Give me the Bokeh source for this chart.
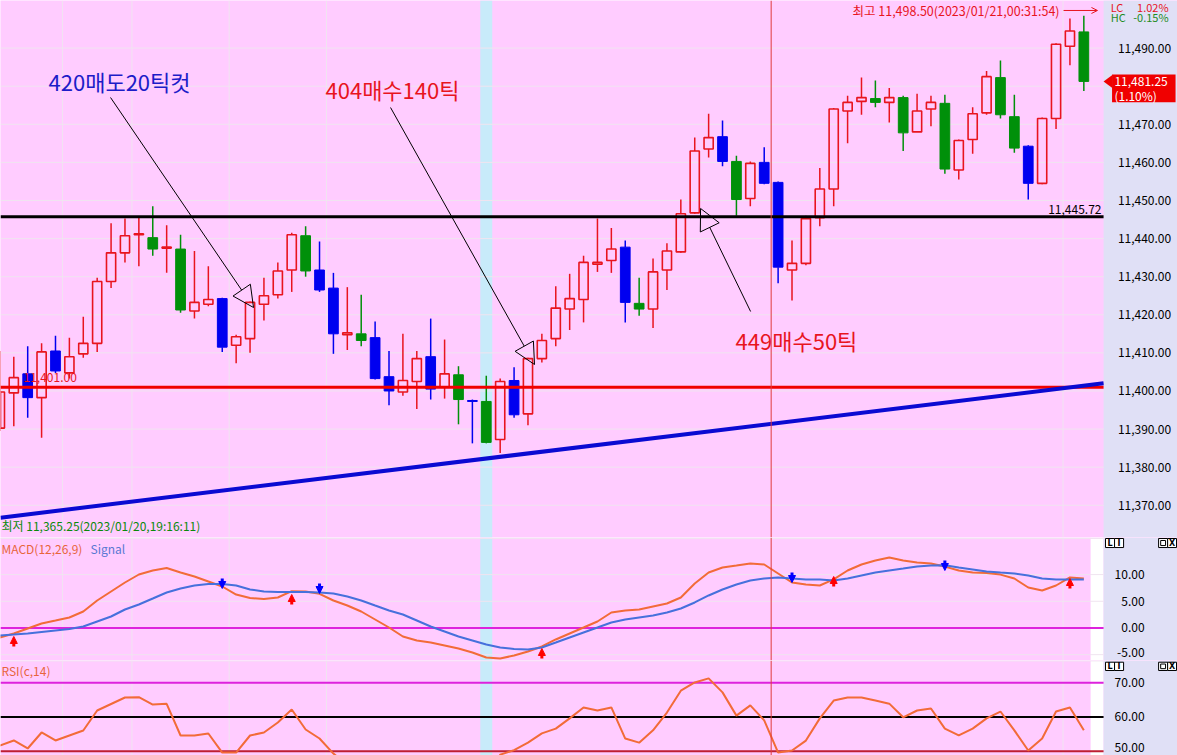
import numpy as np
from bokeh.plotting import figure
from bokeh.layouts import column
from bokeh.models import (ColumnDataSource, Range1d, Span, BoxAnnotation,
                          Arrow, NormalHead, OpenHead)
from bokeh.core.properties import value
from bokeh.embed import file_html
from bokeh.resources import INLINE

# ---------------- data ----------------
opens = [11390.25, 11399.5, 11404.5, 11398.25, 11410.5, 11404.75, 11409.75, 11412.5, 11428.75, 11436.25,
         11441.0, 11440.25, 11437.5, 11437.25, 11421.0, 11422.75, 11424.25, 11412.0, 11413.75, 11422.75,
         11425.25, 11431.75, 11440.75, 11431.75, 11427.0, 11414.75, 11415.0, 11414.0, 11403.75, 11399.75,
         11402.5, 11409.0, 11401.0, 11404.25, 11397.5, 11397.25, 11387.25, 11402.75, 11394.0, 11408.5,
         11413.75, 11421.5, 11424.0, 11433.25, 11434.25, 11437.75, 11423.0, 11421.5, 11431.75, 11436.5,
         11446.75, 11463.5, 11466.75, 11460.25, 11450.5, 11460.0, 11454.75, 11431.75, 11433.5, 11445.5,
         11453.0, 11473.5, 11476.0, 11476.75, 11475.75, 11477.0, 11468.0, 11474.0, 11475.5, 11458.0,
         11466.0, 11473.0, 11482.25, 11472.0, 11464.25, 11454.5, 11471.5, 11490.5, 11494.25]
highs = [11410.5, 11409.0, 11411.75, 11412.5, 11414.5, 11414.0, 11419.5, 11429.75, 11444.0, 11445.25,
         11445.5, 11448.5, 11443.5, 11441.0, 11436.75, 11432.75, 11424.5, 11414.75, 11423.5, 11429.75,
         11433.75, 11441.5, 11443.25, 11439.25, 11431.0, 11427.25, 11425.25, 11418.25, 11410.5, 11415.0,
         11410.5, 11419.0, 11413.5, 11406.5, 11397.75, 11404.0, 11403.25, 11406.25, 11408.75, 11415.0,
         11427.5, 11430.75, 11435.5, 11445.25, 11442.75, 11439.5, 11429.75, 11434.75, 11438.75, 11450.25,
         11466.5, 11472.75, 11471.0, 11461.75, 11460.25, 11464.0, 11455.0, 11439.5, 11446.0, 11458.5,
         11474.25, 11477.5, 11482.25, 11481.5, 11479.5, 11477.5, 11478.0, 11477.5, 11477.75, 11466.0,
         11474.5, 11484.0, 11486.75, 11477.75, 11464.5, 11471.75, 11491.25, 11497.75, 11498.5]
lows = [11389.5, 11390.75, 11393.0, 11387.75, 11404.75, 11403.25, 11408.75, 11410.25, 11427.0, 11433.75,
        11432.75, 11435.5, 11431.0, 11420.5, 11419.0, 11422.25, 11410.25, 11407.25, 11410.0, 11418.5,
        11424.25, 11426.0, 11430.0, 11426.0, 11409.75, 11410.75, 11411.75, 11403.0, 11396.25, 11398.75,
        11395.25, 11397.75, 11398.0, 11391.25, 11386.25, 11386.25, 11383.75, 11393.0, 11391.0, 11407.5,
        11411.75, 11416.0, 11418.0, 11431.25, 11431.0, 11418.0, 11419.75, 11416.5, 11426.5, 11436.25,
        11446.5, 11461.25, 11459.0, 11446.0, 11448.5, 11454.25, 11428.25, 11423.75, 11433.0, 11443.25,
        11448.5, 11465.0, 11472.5, 11474.5, 11470.5, 11463.0, 11468.0, 11469.5, 11457.0, 11455.5,
        11462.25, 11472.5, 11471.5, 11462.5, 11450.25, 11454.25, 11468.75, 11485.5, 11478.75]
closes = [11399.75, 11403.5, 11398.25, 11410.25, 11405.25, 11409.0, 11412.5, 11428.75, 11436.25, 11440.75,
          11441.25, 11437.25, 11437.75, 11421.25, 11423.25, 11424.0, 11411.5, 11414.25, 11423.25, 11425.0,
          11431.5, 11441.0, 11431.5, 11426.5, 11415.0, 11415.25, 11413.25, 11403.25, 11400.0, 11402.75,
          11408.5, 11400.5, 11404.5, 11397.75, 11397.25, 11386.5, 11402.5, 11393.75, 11408.5, 11413.25,
          11421.75, 11424.25, 11433.75, 11433.75, 11437.25, 11423.25, 11421.5, 11431.25, 11436.75, 11446.5,
          11463.0, 11466.5, 11460.25, 11450.25, 11459.75, 11454.5, 11432.5, 11433.5, 11445.25, 11453.0,
          11474.0, 11475.75, 11477.0, 11475.75, 11477.0, 11467.75, 11473.5, 11475.75, 11458.25, 11465.75,
          11472.75, 11482.5, 11472.5, 11463.75, 11454.5, 11471.5, 11491.0, 11494.5, 11481.25]
# R = rising (hollow red), B = falling (blue), G = falling (green)
candle_kind = list("RRBRBRRRRR" "RGRGRRBRRR" "RRGBBRGBBR" "RBRGBGRBRR"
                   "RRRRRBGRRR" "RRBGRBBRRR" "RRRGRGRRGR" "RRGGBRRRG")

macd = [-1.78, -1.03, -0.09, 0.84, 1.40, 1.97, 3.09, 5.15, 6.84, 8.52,
        10.02, 10.77, 11.24, 10.39, 9.64, 8.71, 7.77, 6.27, 5.62, 5.43,
        5.71, 6.90, 6.84, 6.40, 5.15, 4.21, 3.09, 1.59, 0.09, -1.59,
        -2.34, -2.72, -3.28, -3.84, -4.59, -5.52, -5.71, -5.15, -4.40, -3.46,
        -2.15, -1.03, 0.09, 1.22, 2.90, 3.28, 3.46, 4.03, 4.59, 5.71,
        8.33, 10.39, 11.33, 11.70, 12.08, 11.89, 10.21, 8.52, 8.15, 7.96,
        9.10, 10.77, 11.89, 12.64, 13.20, 12.64, 12.27, 12.08, 11.50, 10.77,
        10.39, 10.30, 10.00, 9.27, 7.58, 7.02, 7.96, 9.46, 9.27]
signal = [-1.40, -1.22, -1.03, -0.75, -0.47, -0.19, 0.28, 1.22, 2.15, 3.46,
          4.40, 5.52, 6.65, 7.40, 7.96, 8.24, 8.24, 7.96, 7.21, 6.84,
          6.74, 6.74, 6.74, 6.65, 6.46, 5.90, 5.15, 4.21, 3.28, 2.53,
          1.40, 0.28, -0.66, -1.59, -2.34, -3.09, -3.65, -3.93, -4.03, -3.65,
          -2.72, -1.78, -0.84, 0.09, 1.03, 1.59, 1.97, 2.34, 2.90, 3.65,
          4.78, 6.09, 7.21, 8.15, 8.90, 9.27, 9.46, 9.27, 9.08, 9.08,
          8.90, 9.27, 9.83, 10.39, 10.77, 11.14, 11.52, 11.70, 11.75, 11.33,
          10.96, 10.58, 10.39, 10.21, 9.83, 9.27, 9.08, 9.08, 9.08]
rsi = [51.67, 53.13, 50.79, 55.47, 53.13, 54.59, 56.05, 61.9, 63.8, 65.7,
       65.79, 63.65, 63.86, 54.59, 54.59, 55.18, 49.6, 49.6, 54.59, 55.47,
       58.4, 62.2, 56.35, 53.72, 49.3, 46.0, 44.0, 41.0, 38.0, 40.0,
       42.0, 40.0, 41.0, 39.0, 36.0, 35.0, 49.0, 50.3, 52.5, 55.2,
       56.6, 59.6, 62.8, 61.9, 62.8, 53.7, 52.5, 56.1, 61.3, 67.7,
       70.1, 71.3, 67.2, 60.4, 63.4, 59.0, 49.6, 50.2, 53.1, 59.6,
       64.8, 65.7, 65.7, 64.8, 63.9, 59.9, 61.9, 62.5, 56.6, 54.6,
       56.6, 59.6, 61.6, 56.1, 50.2, 53.7, 61.6, 62.8, 56.1]

buy_idx = [1, 21, 39, 60, 77]
buy_tip = [-1.59, 6.27, -3.84, 9.64, 9.27]
sell_idx = [16, 23, 57, 68]
sell_tip = [7.40, 6.46, 8.52, 10.77]

price_ticks = [11370, 11380, 11390, 11400, 11410, 11420, 11430, 11440, 11450, 11460, 11470, 11480, 11490]
macd_ticks = [10, 5, 0, -5]
rsi_ticks = [70, 60, 50]

support_level = 11401.00
resist_level = 11445.72
trend_x = [0.04, 79.42]
trend_y = [11366.75, 11402.0]
last_price = 11481.25
last_change = "(1.10%)"
high_label = "최고 11,498.50(2023/01/21,00:31:54)"
low_label = "최저 11,365.25(2023/01/20,19:16:11)"
notes = ["420매도20틱컷", "404매수140틱", "449매수50틱"]
highlight_idx = 35
cursor_x = 55.5
vgrid_x = [4.5, 9.5, 16.5, 23.5, 76.5]

# ---------------- style ----------------
PINK = "#FFCCFF"
LAV = "#E0E0F6"
GRID = "#F0E4F0"
CYAN = "#C8EBFA"
RED = "#E8141E"
BLUE = "#0000F0"
GREEN = "#00900A"
ORANGE = "#F26B38"
SIGBLUE = "#4670DC"
MAGENTA = "#DD22DD"
FONT = value("Noto Sans CJK KR")

XR = Range1d(0.043, 84.74)
AX = 79.42          # left edge of the price-scale strip
W = 1177


def make_fig(h, yr):
    p = figure(width=W, height=h, x_range=XR, y_range=yr, output_backend="svg",
               toolbar_location=None, x_axis_location=None, y_axis_location=None,
               min_border=0, background_fill_color=PINK, border_fill_color=PINK,
               outline_line_color=None)
    p.grid.visible = False
    return p


def txt(p, x, y, s, color, size=12, align="left", baseline="middle"):
    p.text(x=[x], y=[y], text=[s], text_color=color, text_font=FONT,
           text_font_size=f"{size}px", text_align=align, text_baseline=baseline)


def common(p, ylo, yhi, strip=False):
    p.add_layout(BoxAnnotation(left=highlight_idx - 0.43, right=highlight_idx + 0.43,
                               fill_color=CYAN, fill_alpha=1, line_color=None, level="underlay"))
    if strip:
        p.add_layout(BoxAnnotation(left=78.49, right=AX, fill_color="white", fill_alpha=1,
                                   line_color=None, level="underlay"))
    p.add_layout(BoxAnnotation(left=AX, fill_color=LAV, fill_alpha=1, line_color=None,
                               level="underlay"))
    p.segment(x0=vgrid_x, x1=vgrid_x, y0=[ylo] * len(vgrid_x), y1=[yhi] * len(vgrid_x),
              line_color=GRID, line_width=1)


def icons(p, ytop, ybot):
    ym = (ytop + ybot) / 2
    p.quad(left=[79.56, 80.21, 83.38, 84.03], right=[80.21, 80.86, 84.03, 84.67],
           top=[ytop] * 4, bottom=[ybot] * 4, fill_color="white", line_color="black", line_width=1)
    p.text(x=[79.885, 80.535, 84.35], y=[ym] * 3, text=["L", "I", "X"], text_color="black",
           text_font=value("DejaVu Sans"), text_font_size="8px", text_font_style="bold",
           text_align="center", text_baseline="middle")
    dy = (ytop - ybot) * 0.28
    p.quad(left=[83.53], right=[83.88], top=[ym + dy], bottom=[ym - dy],
           fill_color=None, line_color="black", line_width=1)


# ---------------- main price panel ----------------
Y1 = (11361.54, 11502.49)
p1 = make_fig(537, Range1d(*Y1))
common(p1, *Y1)
p1.segment(x0=[XR.start] * len(price_ticks), x1=[AX] * len(price_ticks),
           y0=price_ticks, y1=price_ticks, line_color=GRID, line_width=1)

x = np.arange(len(opens))
o = np.array(opens); h = np.array(highs); l = np.array(lows); c = np.array(closes)
top = np.maximum(o, c); bot = np.minimum(o, c)
kind = np.array(candle_kind)
col = np.where(kind == "R", RED, np.where(kind == "B", BLUE, GREEN))

p1.segment(x0=x, x1=x, y0=h, y1=top, line_color=col, line_width=1.5)
p1.segment(x0=x, x1=x, y0=bot, y1=l, line_color=col, line_width=1.5)
up = kind == "R"
p1.vbar(x=x[up], top=top[up], bottom=bot[up], width=0.66, fill_color=None,
        line_color=RED, line_width=1.6)
dn = ~up
p1.vbar(x=x[dn], top=top[dn], bottom=bot[dn], width=0.70, fill_color=col[dn],
        line_color=col[dn], line_width=1)

p1.segment(x0=[XR.start], x1=[AX], y0=[resist_level], y1=[resist_level], line_color="black", line_width=3)
p1.segment(x0=[XR.start], x1=[AX], y0=[support_level], y1=[support_level], line_color="#F00000", line_width=3)
p1.line(trend_x, trend_y, line_color="#0A0AD2", line_width=4)

# price scale labels
p1.text(x=[80.45] * len(price_ticks), y=price_ticks, text=[f"{t:,.2f}" for t in price_ticks],
        text_color="black", text_font=FONT, text_font_size="12px", text_baseline="middle")

# last price tag
p1.quad(left=[80.03], right=[84.6], top=[last_price + 1.8], bottom=[last_price - 5.45],
        fill_color="#F00000", line_color=None)
p1.patch(x=[AX, 80.05, 80.05], y=[last_price, last_price + 1.7, last_price - 1.7],
         fill_color="#F00000", line_color=None)
txt(p1, 80.20, last_price, f"{last_price:,.2f}", "white")
txt(p1, 80.20, last_price - 3.7, last_change, "white")

txt(p1, 79.93, 11500.78, "LC", RED, size=11)
txt(p1, 84.10, 11500.78, "1.02%", RED, size=11, align="right")
txt(p1, 79.93, 11498.03, "HC", "#1E8C1E", size=11)
txt(p1, 84.10, 11498.03, "-0.15%", "#1E8C1E", size=11, align="right")

txt(p1, 79.27, 11447.63, f"{resist_level:,.2f}", "black", align="right")
txt(p1, 1.70, 11403.54, f"{support_level:,.2f}", RED)
txt(p1, 61.35, 11499.87, high_label, RED, size=12.5)
p1.add_layout(Arrow(end=OpenHead(size=6, line_color=RED, line_width=1),
                    x_start=76.54, y_start=11499.87, x_end=78.98, y_end=11499.87,
                    line_color=RED, line_width=1))
txt(p1, 0.115, 11364.69, low_label, "#0A8A0A")

txt(p1, 3.50, 11481.49, notes[0], "#1C1CC8", size=22)
txt(p1, 23.43, 11479.39, notes[1], RED, size=22)
txt(p1, 52.94, 11413.25, notes[2], RED, size=22)
for (xs, ys, xe, ye) in [(7.96, 11477.03, 18.25, 11421.91),
                         (28.11, 11474.4, 38.47, 11406.95),
                         (54.02, 11420.86, 50.42, 11447.9)]:
    p1.add_layout(Arrow(end=NormalHead(size=21, fill_color=None, line_color="black", line_width=1),
                        x_start=xs, y_start=ys, x_end=xe, y_end=ye,
                        line_color="black", line_width=1))

# ---------------- MACD panel ----------------
Y2 = (-6.09, 16.95)
p2 = make_fig(123, Range1d(*Y2))
common(p2, *Y2, strip=True)
g2 = [t for t in macd_ticks if t != 0]
p2.segment(x0=[XR.start] * len(g2), x1=[AX] * len(g2), y0=g2, y1=g2, line_color=GRID, line_width=1)
p2.segment(x0=[XR.start], x1=[AX], y0=[16.76], y1=[16.76], line_color=GRID, line_width=1)
p2.segment(x0=[XR.start], x1=[AX], y0=[0], y1=[0], line_color=MAGENTA, line_width=2)
p2.line(x, macd, line_color=ORANGE, line_width=2)
p2.line(x, signal, line_color=SIGBLUE, line_width=2)
src_b = ColumnDataSource(dict(x=buy_idx, y0=[t - 1.87 for t in buy_tip], y1=buy_tip))
p2.add_layout(Arrow(end=NormalHead(size=7, fill_color="#FF0000", line_color="#FF0000"),
                    x_start="x", y_start="y0", x_end="x", y_end="y1", source=src_b,
                    line_color="#FF0000", line_width=3))
src_s = ColumnDataSource(dict(x=sell_idx, y0=[t + 1.87 for t in sell_tip], y1=sell_tip))
p2.add_layout(Arrow(end=NormalHead(size=7, fill_color="#0000FF", line_color="#0000FF"),
                    x_start="x", y_start="y0", x_end="x", y_end="y1", source=src_s,
                    line_color="#0000FF", line_width=3))
txt(p2, 0.115, 14.89, "MACD(12,26,9)", "#E8643C")
txt(p2, 6.52, 14.89, "Signal", "#5A78D2")
p2.text(x=[82.37] * len(macd_ticks), y=[max(t, -4.55) for t in macd_ticks],
        text=[f"{t:.2f}" for t in macd_ticks],
        text_color="black", text_font=FONT, text_font_size="12px",
        text_align="right", text_baseline="middle")
icons(p2, 16.76, 15.07)

# ---------------- RSI panel ----------------
Y3 = (48.74, 76.52)
p3 = make_fig(95, Range1d(*Y3))
common(p3, *Y3, strip=True)
p3.segment(x0=[XR.start], x1=[AX], y0=[76.4], y1=[76.4], line_color=GRID, line_width=1)
for lv, lc in zip(rsi_ticks, [MAGENTA, "black", "#BE1E32"]):
    p3.segment(x0=[XR.start], x1=[AX], y0=[lv], y1=[lv], line_color=lc, line_width=2)
p3.line(x, rsi, line_color=ORANGE, line_width=2)
txt(p3, 0.115, 73.60, "RSI(c,14)", "#E8643C")
p3.text(x=[82.37] * len(rsi_ticks), y=[max(t, 50.94) for t in rsi_ticks],
        text=[f"{t:.2f}" for t in rsi_ticks],
        text_color="black", text_font=FONT, text_font_size="12px",
        text_align="right", text_baseline="middle")
icons(p3, 76.02, 73.60)

for p in (p1, p2, p3):
    p.add_layout(Span(location=cursor_x, dimension="height", line_color="#E03C3C", line_width=1))

layout = column(p1, p2, p3)
open("out.html", "w").write(file_html(layout, INLINE))
